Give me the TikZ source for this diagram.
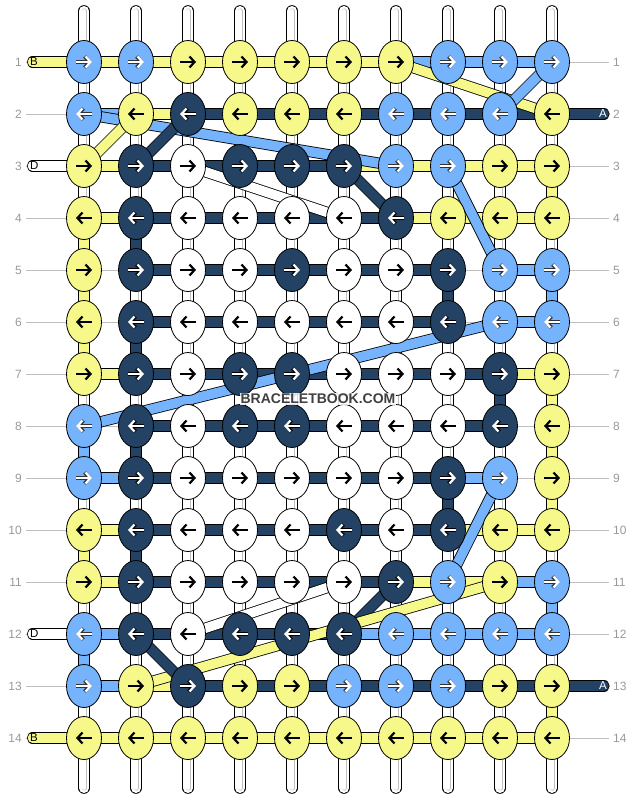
\documentclass[tikz,border=0pt]{standalone}
\usepackage{fontspec}
\setmainfont{Liberation Sans}
\usetikzlibrary{shapes.geometric,arrows.meta,backgrounds}

\definecolor{cY}{HTML}{F6F98A}
\definecolor{cB}{HTML}{75B4FC}
\definecolor{cN}{HTML}{234264}
\definecolor{cW}{HTML}{FFFFFF}
\colorlet{aY}{black}
\colorlet{aW}{black}
\colorlet{aB}{white}
\colorlet{aN}{white}
\colorlet{oY}{cY}
\colorlet{oW}{cW}
\colorlet{oB}{black!80}
\colorlet{oN}{black}

\tikzset{
  knot/.style={ellipse, draw, line width=0.8pt, minimum width=35pt, minimum height=43pt, inner sep=0pt},
  band/.style={draw=black, line width=0.8pt, double=#1, double distance=9.6pt},
  stub/.style={draw=black, line width=0.8pt, double=white, double distance=10pt, line cap=round,
    postaction={draw=black!25, line width=0.7pt, double=white, double distance=3.6pt}},
  rowno/.style={text=black!40, font=\fontsize{12}{14}\selectfont, inner sep=4pt},
  rowline/.style={draw=black!25, line width=0.8pt},
  pillchar/.style={font=\fontsize{11.5}{12}\selectfont, inner sep=0pt, anchor=west},
  arr/.style={-{Straight Barb[length=5pt,width=11pt]}, line width=2.2pt},
}

\begin{document}
\begin{tikzpicture}[x=1pt,y=-1pt]
\useasboundingbox (0,0) rectangle (636,800);

% knots, odd rows knot to the right, even rows to the left
\foreach \row/\list in {1/{B,B,Y,Y,Y,Y,Y,B,B,B}, 2/{B,Y,N,Y,Y,Y,B,B,B,Y},
    3/{Y,N,W,N,N,N,B,B,Y,Y}, 4/{Y,N,W,W,W,W,N,Y,Y,Y}, 5/{Y,N,W,W,N,W,W,N,B,B},
    6/{Y,N,W,W,W,W,W,N,B,B}, 7/{Y,N,W,N,N,W,W,W,N,Y}, 8/{B,N,W,N,N,W,W,W,N,Y},
    9/{B,N,W,W,W,W,W,N,B,Y}, 10/{Y,N,W,W,W,N,W,N,Y,Y}, 11/{Y,N,W,W,W,W,N,B,Y,B},
    12/{B,N,W,N,N,N,B,B,B,B}, 13/{B,Y,N,Y,Y,B,B,B,Y,Y}, 14/{Y,Y,Y,Y,Y,Y,Y,Y,Y,Y}} {
  \foreach \kc [count=\col] in \list {
    \node[knot, fill=c\kc] (k-\row-\col) at ({32+52*\col},{10+52*\row}) {};
    \ifodd\row
      \draw[arr, line width=3.6pt, o\kc] ([xshift=-8pt]k-\row-\col.center) -- ([xshift=8pt]k-\row-\col.center);
      \draw[arr, a\kc] ([xshift=-8pt]k-\row-\col.center) -- ([xshift=8pt]k-\row-\col.center);
    \else
      \draw[arr, line width=3.6pt, o\kc] ([xshift=8pt]k-\row-\col.center) -- ([xshift=-8pt]k-\row-\col.center);
      \draw[arr, a\kc] ([xshift=8pt]k-\row-\col.center) -- ([xshift=-8pt]k-\row-\col.center);
    \fi
  }
}

% row numbers
\foreach \row in {1,...,14} {
  \node[rowno, anchor=east] (nl-\row) at (26,{10+52*\row}) {\row};
  \node[rowno, anchor=west] (nr-\row) at (609,{10+52*\row}) {\row};
}

% loose string ends
\coordinate (el-1) at (32.5,62);
\coordinate (el-3) at (32.5,166);
\coordinate (el-12) at (32.5,634);
\coordinate (el-14) at (32.5,738);
\coordinate (er-2) at (604,114);
\coordinate (er-13) at (604,686);
\foreach \col in {1,...,10} {
  \coordinate (t-\col) at ({32+52*\col},11);
  \coordinate (b-\col) at ({32+52*\col},788);
}

\begin{scope}[on background layer]
  \foreach \row in {1,...,14}
    \draw[rowline] (nl-\row.east) -- (nr-\row.west);

  \foreach \col in {1,...,10}
    \draw[stub] (t-\col) -- (b-\col);

  % coloured bits between two rows
  \foreach \row/\col/\vc in {3/10/Y, 4/1/Y, 4/2/N, 5/1/Y, 5/8/N, 5/10/B, 6/1/Y, 6/2/N,
      7/9/N, 7/10/Y, 8/1/B, 8/2/N, 8/10/Y, 9/8/N, 9/10/Y, 10/1/Y, 10/2/N, 11/10/B,
      12/1/B, 13/10/Y} {
    \pgfmathtruncatemacro\nxt{\row+1}
    \draw[band=c\vc] (k-\row-\col.center) -- (k-\nxt-\col.center);
  }

  % strings along the rows, O = none
  \foreach \row/\list in {1/{Y,Y,Y,Y,Y,Y,B,B,B}, 2/{B,Y,N,N,N,N,N,N,N},
      3/{Y,N,N,N,N,Y,Y,Y,Y}, 4/{Y,N,N,N,N,N,Y,Y,Y}, 5/{O,N,N,N,N,N,N,O,B},
      6/{O,N,N,N,N,N,N,O,B}, 7/{Y,N,N,N,N,N,N,N,Y}, 8/{O,N,N,N,N,N,N,N,O},
      9/{B,N,N,N,N,N,N,B,O}, 10/{Y,N,N,N,N,N,N,Y,Y}, 11/{Y,N,N,N,N,N,Y,Y,B},
      12/{B,N,N,N,N,B,B,B,B}, 13/{B,Y,N,N,N,N,N,N,N}, 14/{Y,Y,Y,Y,Y,Y,Y,Y,Y}} {
    \foreach \hc [count=\col] in \list {
      \if O\hc\else
        \pgfmathtruncatemacro\nxt{\col+1}
        \draw[band=c\hc] (k-\row-\col.center) -- (k-\row-\nxt.center);
      \fi
    }
  }

  \draw[band=cY, line cap=round] (k-1-1.center) -- (el-1);
  \draw[band=cW, line cap=round] (k-3-1.center) -- (el-3);
  \draw[band=cW, line cap=round] (k-12-1.center) -- (el-12);
  \draw[band=cY, line cap=round] (k-14-1.center) -- (el-14);
  \draw[band=cN, line cap=round] (k-2-10.center) -- (er-2);
  \draw[band=cN, line cap=round] (k-13-10.center) -- (er-13);

  % strings changing rows
  \foreach \ra/\ca/\rb/\cb/\dc in {1/7/2/10/Y, 1/10/2/9/B, 2/1/3/7/B, 3/1/2/2/Y,
      3/2/2/3/N, 3/3/4/6/W, 3/6/4/7/N, 3/8/5/9/B, 8/1/6/9/B, 9/9/11/8/B,
      11/7/12/6/N, 11/9/13/2/Y, 12/3/11/6/W, 12/2/13/3/N}
    \draw[band=c\dc] (k-\ra-\ca.center) -- (k-\rb-\cb.center);
\end{scope}

\node[pillchar] (pl-1) at (30,62) {B};
\node[pillchar] (pl-3) at (30,166) {D};
\node[pillchar] (pl-12) at (30,634) {D};
\node[pillchar] (pl-14) at (30,738) {B};
\node[pillchar, text=white] (pr-2) at (599,114) {A};
\node[pillchar, text=white] (pr-13) at (599,686) {A};

\node[fill=white, fill opacity=0.85, text opacity=1, text=black!75, inner sep=1pt,
  font=\bfseries\fontsize{14}{14}\selectfont] (mark) at (318,399) {BRACELETBOOK.COM};
\end{tikzpicture}
\end{document}
